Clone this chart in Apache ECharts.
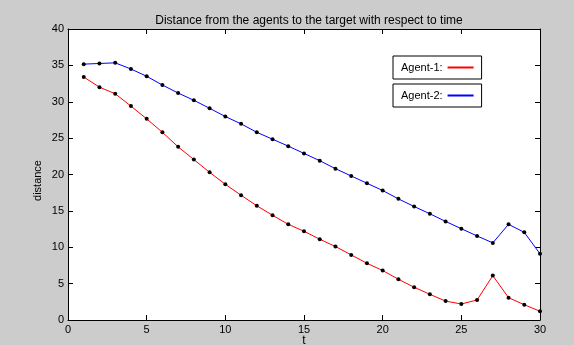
<!DOCTYPE html>
<html>
<head>
<meta charset="utf-8">
<script src="https://cdn.jsdelivr.net/npm/echarts@6/dist/echarts.min.js"></script>
<style>
html,body{margin:0;padding:0;background:#cccccc;}
#c{width:574px;height:345px;}
</style>
</head>
<body>
<div id="c"></div>
<script>
var times = [1,2,3,4,5,6,7,8,9,10,11,12,13,14,15,16,17,18,19,20,21,22,23,24,25,26,27,28,29,30];
var agent1 = [33.4,32.0,31.1,29.4,27.65,25.8,23.8,22.05,20.3,18.65,17.15,15.7,14.4,13.15,12.2,11.1,10.1,8.95,7.8,6.8,5.6,4.5,3.53,2.6,2.2,2.75,6.1,3.07,2.1,1.2];
var agent2 = [35.17,35.26,35.35,34.5,33.5,32.3,31.2,30.2,29.1,27.97,26.96,25.8,24.85,23.9,22.9,21.9,20.8,19.8,18.8,17.8,16.65,15.6,14.6,13.55,12.55,11.55,10.6,13.15,12.05,9.1];
var seriesNames = ['Agent-1','Agent-2'];
var legendLabels = ['Agent-1:','Agent-2:'];
var titleText = 'Distance from the agents to the target with respect to time';
var xName = 't';
var yName = 'distance';

function pairs(vals){ return times.map(function(t,i){ return [t, vals[i]]; }); }

var FONT = 'Liberation Sans, Arial, sans-serif';
var chart = echarts.init(document.getElementById('c'), null, {renderer:'canvas'});
function axisCommon(){
  return {
    axisLine:{show:true, onZero:false, lineStyle:{color:'#000', width:1}},
    axisTick:{show:true, inside:true, length:5, lineStyle:{color:'#000', width:1}},
    splitLine:{show:false}
  };
}
function legendFor(i, color, top){
  return {
    data:[{name:seriesNames[i], itemStyle:{color:color}}],
    formatter: function(){ return legendLabels[i]; },
    left:393, top:top, align:'right', orient:'horizontal',
    icon:'rect', itemWidth:26, itemHeight:2,
    borderColor:'#000', borderWidth:1, backgroundColor:'#fff',
    padding:[6,8,6,8], selectedMode:false,
    textStyle:{fontFamily:FONT, fontSize:11, color:'#000'}
  };
}
chart.setOption({
  backgroundColor:'#cccccc',
  animation:false,
  title:{text:titleText, left:304, top:10, textAlign:'center',
    textStyle:{fontFamily:FONT, fontSize:12, fontWeight:'normal', color:'#000'}},
  legend:[legendFor(0,'#ff0000',56), legendFor(1,'#0000ff',84)],
  grid:{left:68, top:29, right:34, bottom:25, show:true, backgroundColor:'#fff', borderWidth:0,
    containLabel:false, outerBoundsMode:'none'},
  xAxis:[
    Object.assign({type:'value', min:0, max:30, interval:5, position:'bottom',
      name:xName, nameLocation:'middle', nameGap:15, nameMoveOverlap:false,
      nameTextStyle:{fontFamily:FONT, fontSize:12, color:'#000'},
      axisLabel:{fontFamily:FONT, fontSize:11, color:'#000', margin:4}}, axisCommon()),
    Object.assign({type:'value', min:0, max:30, interval:5, position:'top',
      axisLabel:{show:false}}, axisCommon())
  ],
  yAxis:[
    Object.assign({type:'value', min:0, max:40, interval:5, position:'left',
      name:yName, nameLocation:'middle', nameGap:25, nameRotate:90, nameMoveOverlap:false,
      nameTextStyle:{fontFamily:FONT, fontSize:11, color:'#000', padding:[0,12,0,0]},
      axisLabel:{fontFamily:FONT, fontSize:11, color:'#000', margin:4}}, axisCommon()),
    Object.assign({type:'value', min:0, max:40, interval:5, position:'right',
      axisLabel:{show:false}}, axisCommon())
  ],
  series:[
    {name:seriesNames[0], type:'line', xAxisIndex:0, yAxisIndex:0, data:pairs(agent1),
      symbol:'circle', symbolSize:4, itemStyle:{color:'#000'},
      lineStyle:{color:'#ff0000', width:1}},
    {name:seriesNames[1], type:'line', xAxisIndex:0, yAxisIndex:0, data:pairs(agent2),
      symbol:'circle', symbolSize:4, itemStyle:{color:'#000'},
      lineStyle:{color:'#0000ff', width:1}}
  ]
});
</script>
</body>
</html>
